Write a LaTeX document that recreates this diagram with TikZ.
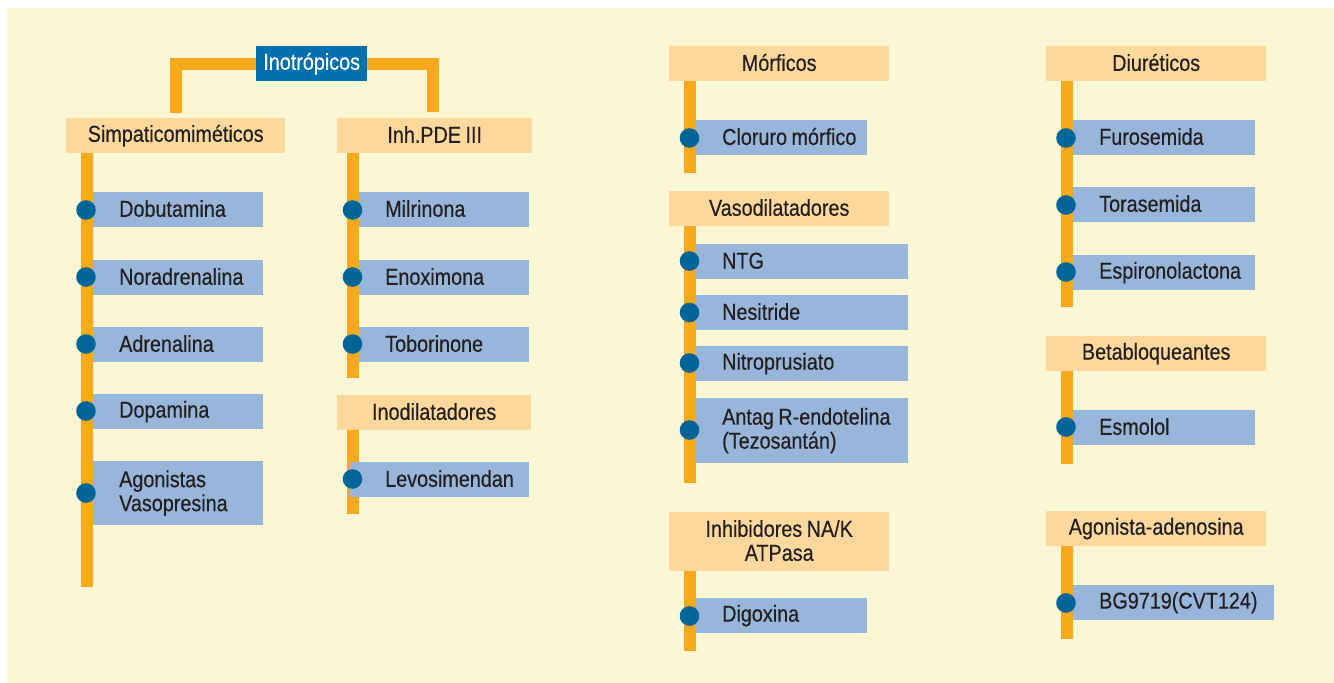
\documentclass[tikz,border=0pt]{standalone}
\usepackage{fontspec}
\setmainfont[FakeStretch=0.86, FakeBold=0.4]{Liberation Sans}
\definecolor{bgc}{HTML}{FDF6D4}
\definecolor{barc}{HTML}{F7A81B}
\definecolor{hdrc}{HTML}{FDD89D}
\definecolor{itmc}{HTML}{98B5DA}
\definecolor{dotc}{HTML}{006699}
\definecolor{inoc}{HTML}{0070AE}
\definecolor{txtc}{HTML}{231F20}
\newcommand\MyStrut{\rule[-2.5pt]{0pt}{19pt}}
\newcommand\MyPad{\hspace*{26pt}\MyStrut}
\newcommand\Sp{\kern4.5pt}
\newcommand\MyFont{\fontsize{23}{24}\selectfont}
\begin{document}
\begin{tikzpicture}[x=1pt,y=-1pt,
  hdr/.style={fill=hdrc, inner sep=0pt, anchor=north west, align=center, text=txtc, minimum height=35pt, font=\MyFont},
  itm/.style={fill=itmc, inner sep=0pt, anchor=north west, align=left, text=txtc, minimum height=35pt, font=\MyFont},
  bar/.style={draw=barc, line width=12pt, line cap=butt, line join=miter},
  dot/.style={circle, fill=dotc, minimum size=19.6pt, inner sep=0pt}]
\useasboundingbox (0,0) rectangle (1334,683);
\fill[bgc] (7,8) rectangle (1334,683);

% headers
\node[hdr, fill=inoc, text=white, text width=111pt] (ino) at (256,46) {\MyStrut Inotrópicos};
\node[hdr, text width=219pt] (simp) at (66,118) {\MyStrut Simpaticomiméticos};
\node[hdr, text width=195pt] (pde) at (337,118) {\MyStrut Inh.PDE\Sp III};
\node[hdr, text width=194pt] (inod) at (337,395) {\MyStrut Inodilatadores};
\node[hdr, text width=220pt] (morf) at (669,46) {\MyStrut Mórficos};
\node[hdr, text width=220pt] (vaso) at (669,191) {\MyStrut Vasodilatadores};
\node[hdr, text width=220pt, minimum height=59pt] (inh) at (669,512) {\MyStrut Inhibidores\Sp NA/K\\\MyStrut ATPasa};
\node[hdr, text width=220pt] (diur) at (1046,46) {\MyStrut Diuréticos};
\node[hdr, text width=220pt] (beta) at (1046,336) {\MyStrut Betabloqueantes};
\node[hdr, text width=220pt] (agon) at (1046,511) {\MyStrut Agonista-adenosina};

% bracket
\coordinate (bl) at (175.5,113);
\coordinate (br) at (433,112);
\draw[bar] (bl) |- (ino.west);
\draw[bar] (br) |- (ino.east);

% bars
\coordinate (e1) at (87,587);
\coordinate (e2) at (353,378);
\coordinate (e3) at (353,514);
\coordinate (e4) at (690,173);
\coordinate (e5) at (690,483);
\coordinate (e6) at (690,651);
\coordinate (e7) at (1066.7,307);
\coordinate (e8) at (1066.7,464);
\coordinate (e9) at (1066.7,639);
\draw[bar] (simp.south -| e1) -- (e1);
\draw[bar] (pde.south -| e2) -- (e2);
\draw[bar] (inod.south -| e3) -- (e3);
\draw[bar] (morf.south -| e4) -- (e4);
\draw[bar] (vaso.south -| e5) -- (e5);
\draw[bar] (inh.south -| e6) -- (e6);
\draw[bar] (diur.south -| e7) -- (e7);
\draw[bar] (beta.south -| e8) -- (e8);
\draw[bar] (agon.south -| e9) -- (e9);

% items: simpaticomimeticos
\node[itm, text width=170pt] (dobu) at (93,192) {\MyPad Dobutamina};
\node[itm, text width=170pt] (nora) at (93,260) {\MyPad Noradrenalina};
\node[itm, text width=170pt] (adre) at (93,327) {\MyPad Adrenalina};
\node[itm, text width=170pt] (dopa) at (93,394) {\MyPad Dopamina};
\node[itm, text width=170pt, minimum height=64pt] (agva) at (93,461) {\MyPad Agonistas\\\MyPad Vasopresina};
% PDE III
\node[itm, text width=170pt] (milr) at (359,192) {\MyPad Milrinona};
\node[itm, text width=170pt] (enox) at (359,260) {\MyPad Enoximona};
\node[itm, text width=170pt] (tobo) at (359,327) {\MyPad Toborinone};
\node[itm, text width=179pt] (levo) at (350,462) {\hspace*{35pt}\MyStrut Levosimendan};
% morficos / vasodilatadores / inhibidores
\node[itm, text width=171pt] (clor) at (696,120) {\MyPad Cloruro\Sp mórfico};
\node[itm, text width=212pt] (ntg) at (696,244) {\MyPad NTG};
\node[itm, text width=212pt] (nesi) at (696,295) {\MyPad Nesitride};
\node[itm, text width=212pt] (nitr) at (696,346) {\MyPad Nitroprusiato};
\node[itm, text width=212pt, minimum height=65pt] (anta) at (696,398) {\MyPad Antag\Sp R-endotelina\\\MyPad (Tezosantán)};
\node[itm, text width=171pt] (digo) at (696,598) {\MyPad Digoxina};
% diureticos / beta / agonista
\node[itm, text width=182pt] (furo) at (1073,120) {\MyPad Furosemida};
\node[itm, text width=182pt] (tora) at (1073,187) {\MyPad Torasemida};
\node[itm, text width=182pt] (espi) at (1073,255) {\MyPad Espironolactona};
\node[itm, text width=182pt] (esmo) at (1073,410) {\MyPad Esmolol};
\node[itm, text width=201pt] (bg) at (1073,585) {\MyPad BG9719(CVT124)};

% dots
\node[dot] (d1) at (86,210) {};
\node[dot] (d2) at (86,277) {};
\node[dot] (d3) at (86,344) {};
\node[dot] (d4) at (86,411) {};
\node[dot] (d5) at (86,493) {};
\node[dot] (d6) at (352.5,210) {};
\node[dot] (d7) at (352.5,277) {};
\node[dot] (d8) at (352.5,344) {};
\node[dot] (d9) at (352.5,479) {};
\node[dot] (d10) at (689.5,138) {};
\node[dot] (d11) at (689.5,261) {};
\node[dot] (d12) at (689.5,312.5) {};
\node[dot] (d13) at (689.5,363) {};
\node[dot] (d14) at (689.5,430) {};
\node[dot] (d15) at (689.5,616) {};
\node[dot] (d16) at (1066,138) {};
\node[dot] (d17) at (1066,205) {};
\node[dot] (d18) at (1066,272) {};
\node[dot] (d19) at (1066,427) {};
\node[dot] (d20) at (1066,603) {};
\end{tikzpicture}
\end{document}
